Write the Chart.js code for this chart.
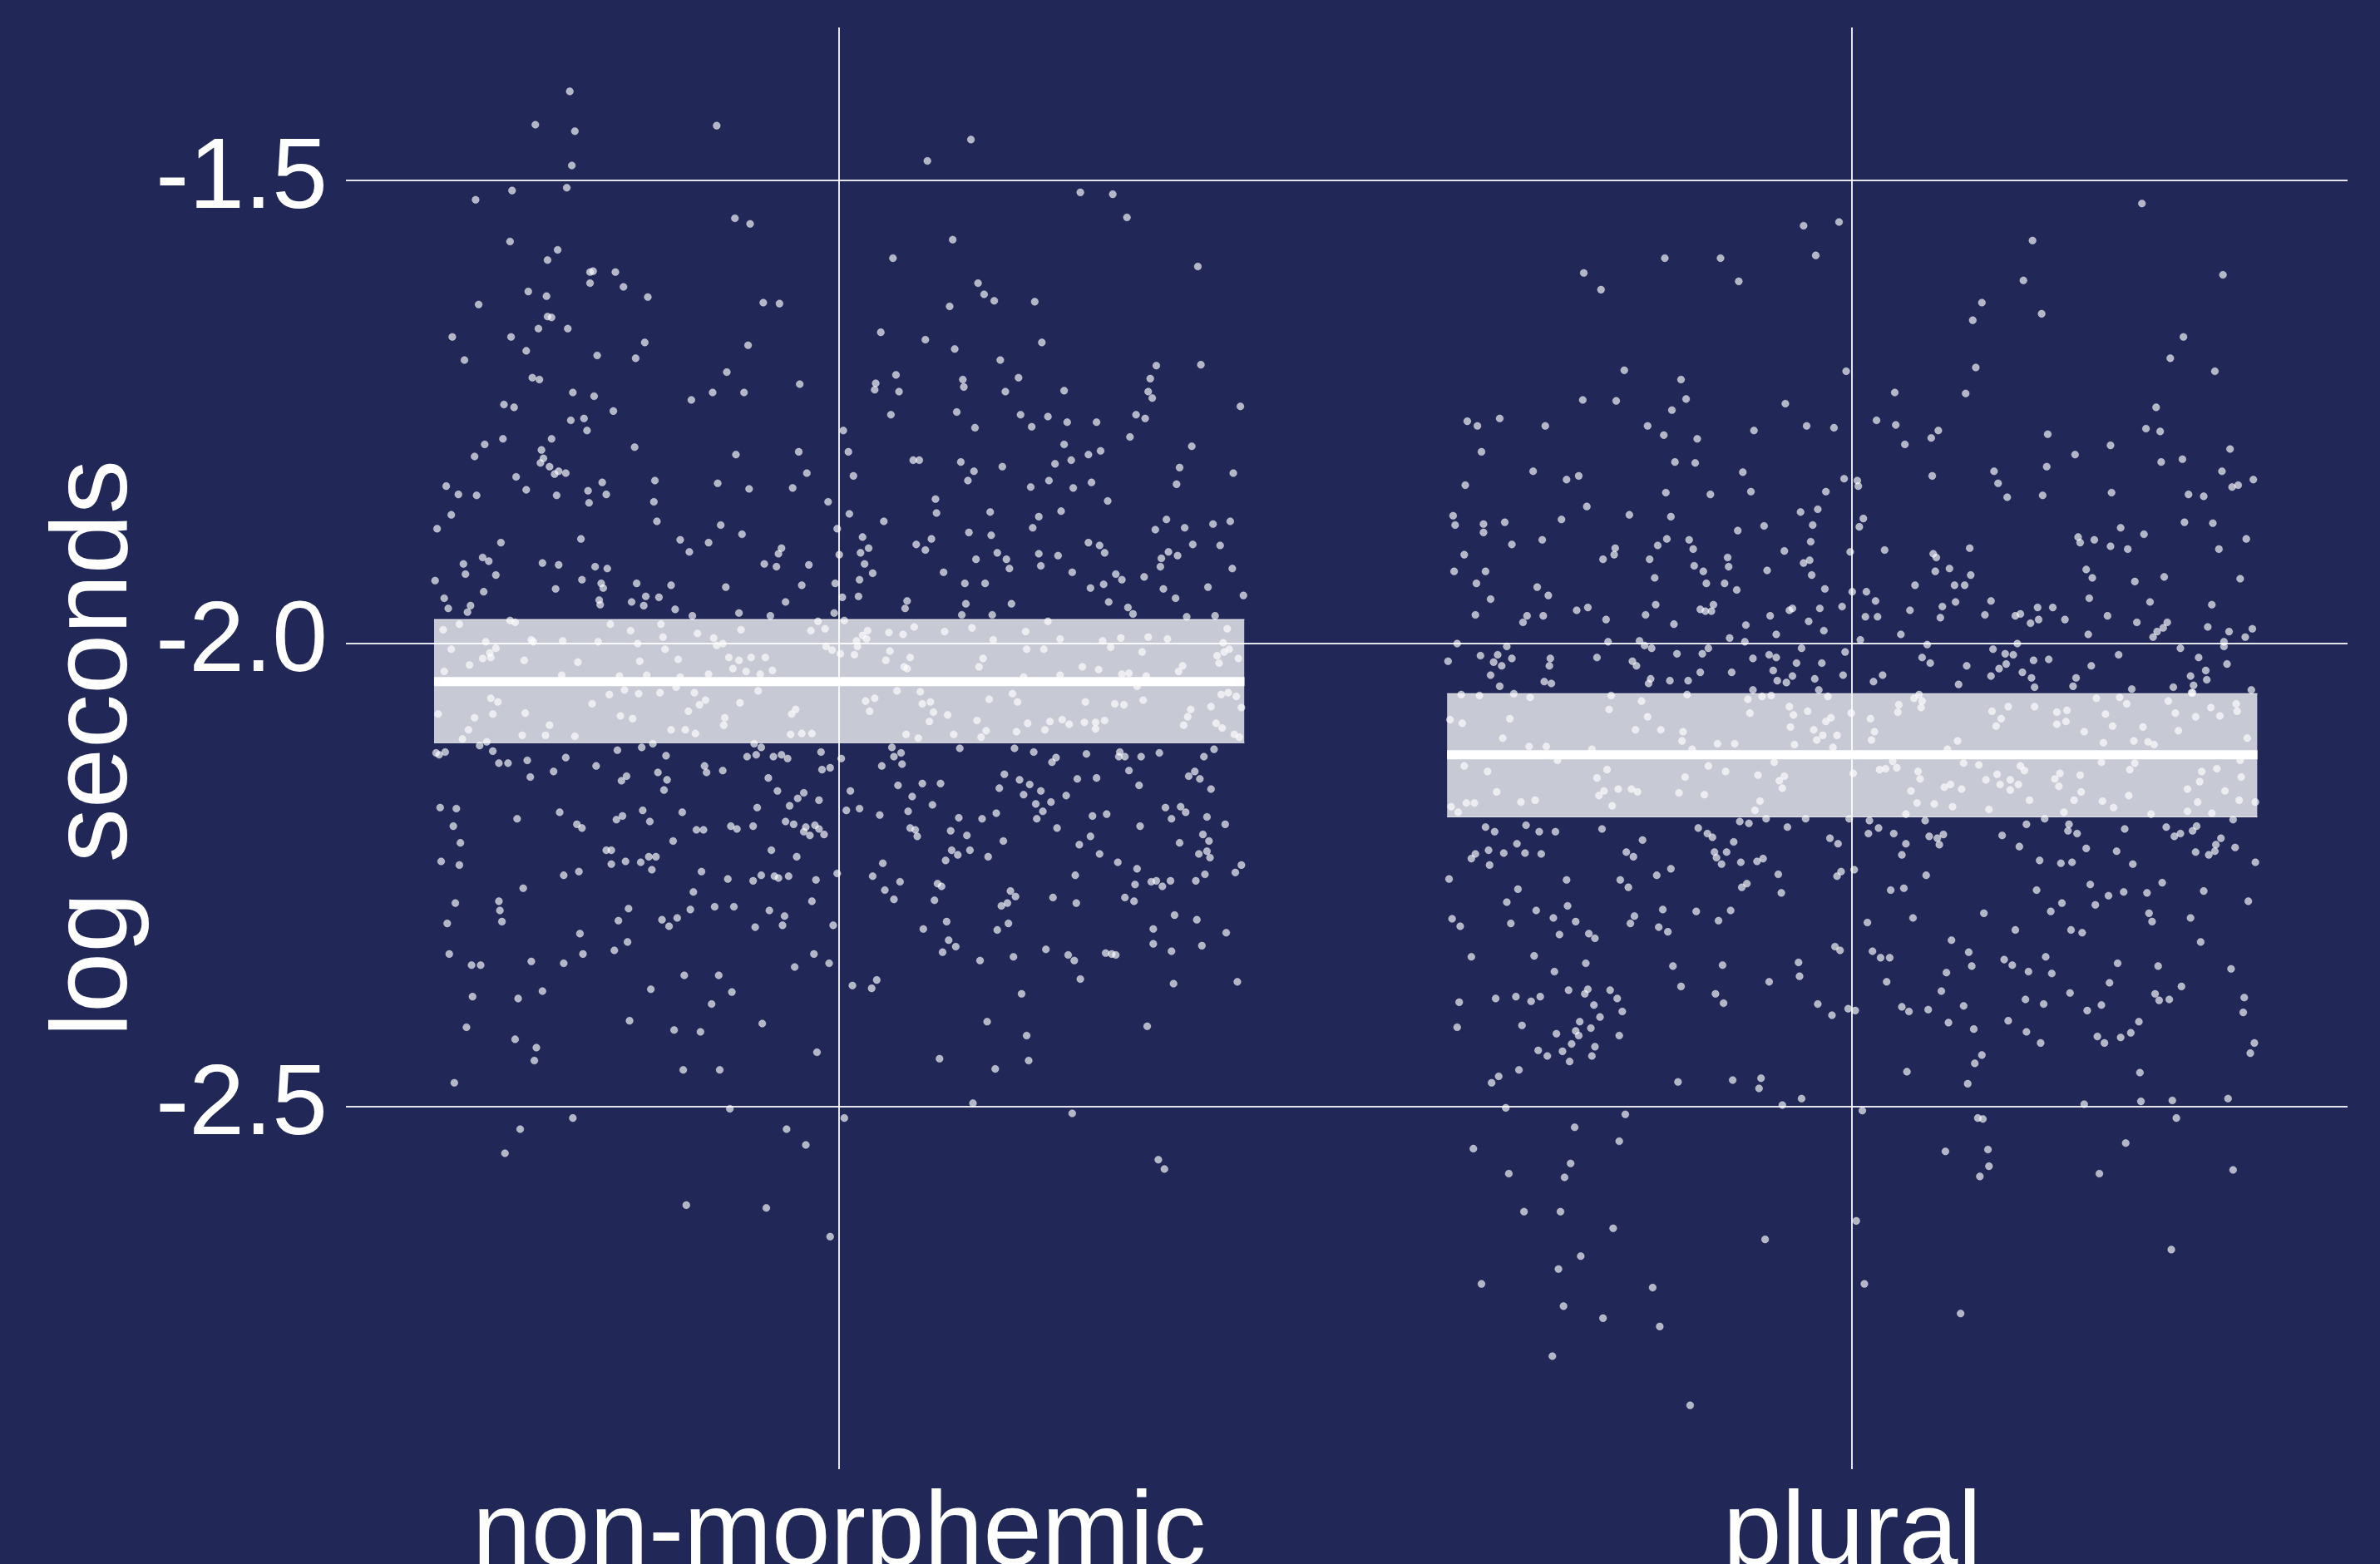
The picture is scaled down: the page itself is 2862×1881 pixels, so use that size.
<!DOCTYPE html>
<html>
<head>
<meta charset="utf-8">
<script src="https://cdn.jsdelivr.net/npm/chart.js@4.4.1/dist/chart.umd.min.js"></script>
<style>
  html, body { margin: 0; padding: 0; background: #212858; }
  #chart { display: block; background: #212858; }
</style>
</head>
<body>
<canvas id="chart" width="2862" height="1881"></canvas>
<script>
const categories = ['non-morphemic', 'plural'];
const yTicks = [-1.5, -2.0, -2.5];

// crossbar summary per category: mean and interval
const means = [-2.041, -2.120];
const lowerCI = [-2.107, -2.187];
const upperCI = [-1.974, -2.054];

// jittered trials: [horizontal jitter, log seconds]
const nonMorphemicPts = [
  [-0.266,-1.404],[-0.300,-1.440],[-0.261,-1.447],[-0.121,-1.441],[-0.264,-1.484],[0.130,-1.456],[0.087,-1.479],[-0.323,-1.511],[-0.269,-1.508],[-0.359,-1.521],
  [0.238,-1.513],[0.270,-1.515],[0.284,-1.540],[-0.103,-1.541],[-0.088,-1.547],[0.112,-1.564],[-0.325,-1.566],[-0.278,-1.575],[-0.288,-1.586],[0.053,-1.584],
  [0.354,-1.593],[-0.246,-1.599],[-0.243,-1.598],[-0.221,-1.599],[-0.246,-1.611],[-0.213,-1.615],[-0.307,-1.620],[-0.289,-1.625],[-0.189,-1.626],[0.137,-1.611],
  [0.143,-1.623],[0.153,-1.630],[0.193,-1.631],[-0.356,-1.634],[-0.075,-1.632],[-0.059,-1.633],[0.109,-1.636],[-0.288,-1.647],[-0.284,-1.648],[-0.297,-1.660],
  [-0.268,-1.660],[0.041,-1.664],[0.085,-1.672],[-0.382,-1.669],[-0.324,-1.669],[0.200,-1.675],[-0.192,-1.675],[-0.090,-1.678],[-0.309,-1.684],[0.114,-1.682],
  [-0.370,-1.694],[-0.239,-1.689],[-0.201,-1.692],[0.159,-1.694],[0.357,-1.699],[0.313,-1.700],[-0.303,-1.713],[-0.296,-1.715],[-0.111,-1.707],[0.122,-1.715],
  [0.123,-1.723],[0.056,-1.710],[0.036,-1.719],[0.035,-1.726],[0.177,-1.713],[0.307,-1.714],[-0.039,-1.720],[-0.263,-1.729],[-0.242,-1.733],[-0.125,-1.729],
  [-0.094,-1.729],[0.059,-1.728],[0.164,-1.728],[0.222,-1.727],[0.305,-1.728],[0.309,-1.735],[-0.146,-1.737],[-0.331,-1.742],[-0.321,-1.745],[-0.223,-1.749],
  [0.051,-1.753],[0.116,-1.750],[0.179,-1.753],[0.206,-1.755],[0.293,-1.753],[0.302,-1.757],[0.396,-1.744],[-0.265,-1.759],[-0.252,-1.757],[-0.249,-1.770],
  [0.134,-1.767],[0.190,-1.766],[0.225,-1.761],[0.254,-1.761],[0.287,-1.777],[0.004,-1.770],[-0.332,-1.779],[-0.284,-1.779],[-0.350,-1.785],[-0.202,-1.788],
  [-0.294,-1.791],[-0.360,-1.798],[-0.292,-1.800],[-0.295,-1.805],[-0.102,-1.796],[-0.040,-1.793],[0.009,-1.793],[0.222,-1.785],[0.348,-1.787],[0.246,-1.796],
  [0.258,-1.792],[0.073,-1.802],[0.079,-1.802],[0.120,-1.804],[0.229,-1.802],[0.213,-1.806],[-0.286,-1.809],[-0.277,-1.814],[-0.270,-1.816],[-0.281,-1.817],
  [-0.319,-1.820],[-0.032,-1.816],[0.014,-1.819],[0.133,-1.814],[0.161,-1.809],[0.336,-1.810],[0.389,-1.816],[-0.182,-1.824],[-0.234,-1.826],[-0.388,-1.830],
  [-0.376,-1.839],[-0.358,-1.840],[-0.309,-1.834],[-0.248,-1.835],[-0.230,-1.839],[-0.279,-1.840],[-0.089,-1.833],[-0.046,-1.832],[-0.120,-1.827],[0.127,-1.824],
  [0.189,-1.831],[0.207,-1.824],[0.231,-1.832],[0.249,-1.826],[0.333,-1.828],[-0.183,-1.847],[-0.247,-1.848],[-0.011,-1.847],[0.095,-1.844],[0.265,-1.846],
  [-0.383,-1.861],[-0.180,-1.868],[-0.117,-1.872],[0.010,-1.860],[0.096,-1.859],[0.044,-1.868],[0.149,-1.858],[0.197,-1.863],[0.219,-1.857],[0.191,-1.875],
  [0.312,-1.877],[0.323,-1.866],[0.341,-1.875],[0.369,-1.871],[0.386,-1.868],[-0.397,-1.876],[-0.002,-1.876],[-0.096,-1.882],[-0.255,-1.887],[-0.157,-1.888],
  [-0.334,-1.891],[-0.129,-1.891],[-0.057,-1.897],[-0.060,-1.903],[0.023,-1.885],[0.029,-1.897],[0.021,-1.902],[0.076,-1.893],[0.091,-1.887],[0.085,-1.899],
  [0.128,-1.880],[0.150,-1.883],[0.156,-1.902],[0.246,-1.891],[0.257,-1.894],[0.262,-1.902],[0.349,-1.893],[0.376,-1.894],[0.216,-1.905],[0.197,-1.903],
  [0.325,-1.901],[0.334,-1.905],[0.318,-1.908],[-0.148,-1.901],[0.000,-1.904],[-0.352,-1.907],[-0.346,-1.911],[-0.371,-1.914],[-0.293,-1.913],[-0.277,-1.915],
  [-0.241,-1.917],[-0.229,-1.919],[-0.074,-1.914],[-0.062,-1.917],[-0.030,-1.915],[0.025,-1.914],[0.135,-1.909],[0.165,-1.909],[0.168,-1.919],[0.199,-1.916],
  [0.317,-1.917],[0.388,-1.919],[-0.399,-1.932],[-0.369,-1.925],[-0.339,-1.926],[-0.254,-1.931],[-0.235,-1.935],[-0.233,-1.940],[-0.200,-1.935],[-0.166,-1.937],
  [-0.112,-1.939],[-0.037,-1.937],[-0.004,-1.935],[0.033,-1.924],[0.020,-1.931],[0.103,-1.923],[0.124,-1.935],[0.144,-1.935],[0.230,-1.923],[0.273,-1.925],
  [0.279,-1.931],[0.301,-1.928],[0.248,-1.940],[0.261,-1.936],[0.320,-1.941],[0.364,-1.939],[-0.390,-1.951],[-0.351,-1.944],[-0.280,-1.941],[-0.386,-1.962],
  [-0.364,-1.959],[-0.367,-1.966],[-0.237,-1.953],[-0.236,-1.958],[-0.205,-1.955],[-0.193,-1.959],[-0.191,-1.949],[-0.178,-1.950],[-0.162,-1.963],[-0.053,-1.955],
  [0.003,-1.950],[0.019,-1.949],[0.067,-1.954],[0.065,-1.962],[0.125,-1.957],[0.170,-1.957],[0.266,-1.955],[0.285,-1.961],[0.290,-1.968],[0.332,-1.951],
  [0.399,-1.948],[0.121,-1.969],[0.151,-1.969],[-0.099,-1.967],[-0.068,-1.970],[-0.145,-1.970],[-0.005,-1.967],[0.343,-1.971],[0.371,-1.970],
  [-0.391,-1.985],[-0.375,-1.979],[-0.383,-2.006],[-0.349,-1.998],[-0.339,-2.005],[-0.345,-2.010],[-0.352,-2.016],[-0.344,-2.015],[-0.365,-2.023],[-0.390,-2.030],
  [-0.325,-1.975],[-0.320,-1.977],[-0.304,-1.996],[-0.302,-1.998],[-0.273,-1.997],[-0.238,-1.998],[-0.226,-1.979],[-0.206,-1.986],[-0.199,-2.000],[-0.176,-1.979],
  [-0.174,-1.993],[-0.172,-2.006],[-0.140,-1.989],[-0.124,-1.994],[-0.121,-2.002],[-0.115,-2.000],[-0.097,-1.985],[-0.028,-1.986],[-0.021,-1.976],[-0.014,-1.984],
  [-0.013,-2.003],[-0.007,-2.007],[0.005,-1.975],[0.001,-2.011],[0.015,-2.012],[0.017,-1.997],[0.018,-2.003],[0.023,-1.991],[0.027,-1.995],[0.028,-1.986],
  [0.049,-1.988],[0.050,-2.008],[0.063,-1.990],[0.074,-1.982],[0.104,-1.987],[0.131,-1.983],[0.152,-1.996],[0.184,-1.987],[0.185,-2.006],[0.202,-2.006],
  [0.206,-1.976],[0.218,-1.995],[0.260,-1.997],[0.268,-2.004],[0.278,-1.994],[0.299,-2.009],[0.305,-1.993],[0.324,-1.995],[0.379,-1.999],[0.383,-1.984],
  [0.385,-2.006],[0.380,-2.009],[0.373,-2.013],[0.375,-2.021],[0.394,-2.016],[-0.311,-2.018],[-0.258,-2.020],[-0.197,-2.019],[-0.159,-2.017],[-0.109,-2.015],
  [-0.099,-2.018],[-0.087,-2.015],[-0.073,-2.015],[-0.105,-2.027],[-0.092,-2.030],[-0.066,-2.029],[-0.078,-2.033],[-0.129,-2.033],[-0.274,-2.034],[-0.217,-2.035],
  [-0.190,-2.034],[-0.157,-2.036],[0.046,-2.018],[0.070,-2.015],[0.142,-2.016],[0.138,-2.025],[0.064,-2.025],[0.067,-2.027],[0.240,-2.025],[0.256,-2.028],
  [0.279,-2.033],[0.286,-2.032],[0.339,-2.024],[0.335,-2.030],[0.303,-2.035],[0.218,-2.034],[0.182,-2.036],
  [-0.396,-2.076],[-0.360,-2.080],[-0.366,-2.093],[-0.372,-2.103],[-0.344,-2.059],[-0.337,-2.063],[-0.342,-2.076],[-0.310,-2.075],[-0.286,-2.088],[-0.290,-2.099],
  [-0.313,-2.099],[-0.261,-2.100],[-0.244,-2.065],[-0.227,-2.055],[-0.212,-2.050],[-0.198,-2.054],[-0.177,-2.053],[-0.216,-2.078],[-0.204,-2.081],[-0.161,-2.047],
  [-0.143,-2.053],[-0.149,-2.073],[-0.138,-2.066],[-0.132,-2.061],[-0.166,-2.093],[-0.152,-2.093],[-0.142,-2.097],[-0.098,-2.064],[-0.113,-2.080],[-0.114,-2.088],
  [-0.080,-2.051],[-0.047,-2.076],[-0.043,-2.071],[-0.048,-2.098],[-0.037,-2.097],[-0.027,-2.097],[0.026,-2.062],[0.035,-2.059],[0.030,-2.073],[0.057,-2.051],
  [0.080,-2.052],[0.082,-2.065],[0.090,-2.063],[0.093,-2.074],[0.107,-2.077],[0.089,-2.084],[0.066,-2.098],[0.078,-2.102],[0.113,-2.098],[0.136,-2.083],
  [0.148,-2.060],[0.171,-2.054],[0.176,-2.063],[0.145,-2.094],[0.140,-2.101],[0.175,-2.095],[0.186,-2.086],[0.203,-2.093],[0.208,-2.084],[0.220,-2.082],
  [0.227,-2.087],[0.242,-2.085],[0.253,-2.085],[0.253,-2.092],[0.262,-2.083],[0.272,-2.065],[0.281,-2.066],[0.243,-2.063],[0.300,-2.061],[0.294,-2.046],
  [0.340,-2.088],[0.344,-2.079],[0.347,-2.071],[0.367,-2.068],[0.372,-2.086],[0.378,-2.091],[0.390,-2.098],[0.395,-2.101],[0.377,-2.055],[0.384,-2.053],
  [0.392,-2.057],[0.397,-2.069],
  [-0.398,-2.118],[-0.395,-2.120],[-0.389,-2.117],[-0.355,-2.110],[-0.348,-2.106],[-0.342,-2.116],[-0.336,-2.129],[-0.327,-2.129],[-0.308,-2.126],[-0.305,-2.144],
  [-0.282,-2.138],[-0.270,-2.123],[-0.240,-2.132],[-0.219,-2.115],[-0.215,-2.148],[-0.210,-2.143],[-0.195,-2.112],[-0.184,-2.108],[-0.179,-2.139],[-0.171,-2.121],
  [-0.170,-2.147],[-0.173,-2.158],[-0.133,-2.132],[-0.131,-2.139],[-0.115,-2.137],[-0.091,-2.122],[-0.084,-2.108],[-0.082,-2.120],[-0.077,-2.112],[-0.070,-2.145],
  [-0.065,-2.122],[-0.057,-2.120],[-0.051,-2.124],[-0.061,-2.159],[-0.035,-2.161],[-0.041,-2.167],[-0.049,-2.175],[-0.020,-2.169],[-0.018,-2.117],[-0.017,-2.136],
  [-0.009,-2.134],[0.002,-2.124],[0.011,-2.159],[0.007,-2.180],[0.020,-2.178],[0.040,-2.185],[0.042,-2.132],[0.052,-2.112],[0.054,-2.122],[0.061,-2.118],
  [0.062,-2.130],[0.058,-2.153],[0.072,-2.165],[0.082,-2.151],[0.100,-2.151],[0.092,-2.174],[0.068,-2.181],[0.119,-2.113],[0.173,-2.113],[0.192,-2.117],
  [0.163,-2.141],[0.158,-2.156],[0.178,-2.147],[0.188,-2.152],[0.199,-2.159],[0.182,-2.163],[0.194,-2.173],[0.201,-2.181],[0.209,-2.171],[0.195,-2.189],
  [0.224,-2.164],[0.210,-2.128],[0.214,-2.123],[0.244,-2.119],[0.235,-2.146],[0.254,-2.145],[0.277,-2.117],[0.276,-2.122],[0.282,-2.122],[0.298,-2.122],
  [0.316,-2.118],[0.286,-2.137],[0.296,-2.153],[0.345,-2.143],[0.351,-2.138],[0.356,-2.146],[0.360,-2.122],[0.370,-2.114],[0.367,-2.157],[0.322,-2.177],
  [0.337,-2.176],[0.342,-2.182],[0.328,-2.189],[0.363,-2.187],[0.381,-2.195],[0.250,-2.186],[0.264,-2.184],[0.215,-2.199],[-0.394,-2.177],[-0.378,-2.178],
  [-0.381,-2.197],[-0.374,-2.215],[-0.393,-2.235],[-0.375,-2.239],[-0.318,-2.189],[-0.276,-2.182],[-0.259,-2.195],[-0.254,-2.199],[-0.220,-2.190],[-0.214,-2.186],
  [-0.194,-2.180],[-0.187,-2.192],[-0.155,-2.182],[-0.164,-2.213],[-0.141,-2.201],[-0.134,-2.201],[-0.107,-2.197],[-0.101,-2.200],[-0.085,-2.197],[-0.053,-2.192],
  [-0.045,-2.195],[-0.035,-2.203],[-0.033,-2.198],[-0.029,-2.207],[-0.024,-2.196],[-0.020,-2.200],[-0.015,-2.206],[-0.067,-2.223],[-0.042,-2.230],[-0.081,-2.177],
  [-0.230,-2.223],[-0.225,-2.223],[-0.225,-2.238],[-0.211,-2.235],[-0.196,-2.236],[-0.188,-2.230],[-0.181,-2.230],[-0.185,-2.244],[-0.272,-2.250],[-0.257,-2.246],
  [-0.136,-2.246],[-0.110,-2.254],[-0.085,-2.256],[-0.077,-2.250],[-0.064,-2.251],[-0.060,-2.253],[-0.050,-2.251],[-0.023,-2.255],[-0.002,-2.248],[0.033,-2.251],
  [0.043,-2.237],[0.060,-2.257],[0.045,-2.266],[0.054,-2.276],[0.077,-2.208],[0.075,-2.201],[0.070,-2.199],[0.110,-2.202],[0.126,-2.207],[0.118,-2.188],
  [0.141,-2.189],[0.155,-2.183],[0.162,-2.213],[0.111,-2.223],[0.117,-2.228],[0.129,-2.223],[0.105,-2.234],[0.147,-2.230],[0.097,-2.259],[0.101,-2.262],
  [0.094,-2.277],[0.174,-2.273],[0.169,-2.267],[0.166,-2.280],[0.160,-2.283],[0.237,-2.217],[0.248,-2.208],[0.257,-2.227],[0.275,-2.236],[0.297,-2.197],
  [0.294,-2.243],[0.292,-2.260],[0.308,-2.257],[0.313,-2.256],[0.327,-2.256],[0.319,-2.262],[0.336,-2.215],[0.355,-2.227],[0.363,-2.224],[0.366,-2.231],
  [0.359,-2.206],[0.365,-2.213],[0.352,-2.256],[0.361,-2.249],[0.391,-2.247],[0.397,-2.239],[0.233,-2.250],[0.211,-2.274],[0.234,-2.280],[0.282,-2.274],
  [0.291,-2.278],[-0.312,-2.264],[-0.379,-2.280],[-0.336,-2.278],[-0.335,-2.288],[-0.333,-2.300],[-0.387,-2.302],[-0.256,-2.313],[-0.218,-2.299],[-0.208,-2.286],
  [-0.209,-2.322],[-0.222,-2.331],[-0.253,-2.335],[-0.175,-2.298],[-0.168,-2.305],[-0.160,-2.296],[-0.147,-2.287],[-0.144,-2.268],[-0.123,-2.284],[-0.104,-2.284],
  [-0.069,-2.288],[-0.054,-2.294],[-0.056,-2.304],[-0.083,-2.306],[-0.027,-2.278],[-0.006,-2.304],[0.083,-2.308],[0.106,-2.300],[0.108,-2.320],[0.102,-2.333],
  [0.115,-2.327],[0.139,-2.342],[0.156,-2.309],[0.167,-2.302],[0.172,-2.338],[0.204,-2.330],[0.226,-2.336],[0.232,-2.342],[0.263,-2.334],[0.269,-2.335],
  [0.273,-2.336],[0.310,-2.308],[0.310,-2.324],[0.328,-2.332],[0.331,-2.293],[0.353,-2.298],[0.358,-2.326],[0.382,-2.312],[-0.385,-2.335],[-0.363,-2.347],
  [-0.354,-2.347],[-0.304,-2.343],[-0.272,-2.345],[-0.153,-2.358],[-0.119,-2.358],[-0.106,-2.376],[-0.126,-2.389],[-0.186,-2.373],[-0.044,-2.349],[-0.025,-2.335],
  [-0.010,-2.345],[0.013,-2.369],[0.037,-2.363],[0.032,-2.372],[0.180,-2.378],[0.238,-2.362],[0.330,-2.367],[0.393,-2.365],[-0.362,-2.381],[-0.317,-2.383],
  [-0.293,-2.375],[-0.368,-2.414],[-0.320,-2.427],[-0.299,-2.436],[-0.301,-2.450],[-0.207,-2.407],[-0.163,-2.417],[-0.137,-2.419],[-0.076,-2.410],[-0.022,-2.441],
  [-0.154,-2.460],[-0.118,-2.460],[-0.380,-2.474],[0.146,-2.408],[0.185,-2.423],[0.187,-2.450],[0.099,-2.448],[0.154,-2.459],[0.304,-2.413],[0.132,-2.496],
  [-0.108,-2.502],[-0.263,-2.512],[-0.315,-2.524],[-0.330,-2.550],[-0.052,-2.524],[-0.033,-2.541],[0.005,-2.512],[0.230,-2.507],[0.315,-2.557],[0.321,-2.567],
  [-0.151,-2.606],[-0.072,-2.609],[-0.009,-2.640]
];

const pluralPts = [
  [0.286,-1.525],[-0.013,-1.545],[-0.048,-1.549],[-0.036,-1.581],[-0.185,-1.584],[-0.130,-1.584],[0.178,-1.565],[-0.265,-1.600],[-0.248,-1.618],[-0.112,-1.609],
  [0.169,-1.608],[0.366,-1.602],[0.128,-1.632],[0.119,-1.651],[0.187,-1.644],[0.327,-1.669],[0.314,-1.692],[0.358,-1.706],[0.122,-1.702],[-0.006,-1.706],
  [-0.225,-1.705],[-0.169,-1.715],[0.042,-1.729],[0.112,-1.730],[-0.266,-1.737],[-0.233,-1.738],[-0.164,-1.736],[-0.178,-1.748],[-0.066,-1.741],[0.300,-1.745],
  [-0.380,-1.760],[-0.370,-1.765],[-0.348,-1.757],[-0.303,-1.765],[-0.202,-1.765],[-0.186,-1.775],[-0.153,-1.779],[-0.097,-1.770],[-0.045,-1.765],[-0.018,-1.767],
  [0.024,-1.759],[0.043,-1.764],[0.085,-1.770],[0.078,-1.778],[0.052,-1.785],[0.193,-1.774],[0.290,-1.768],[0.304,-1.771],[0.255,-1.786],[0.373,-1.790],
  [0.220,-1.796],[-0.366,-1.793],[-0.315,-1.814],[-0.282,-1.823],[-0.270,-1.819],[-0.175,-1.804],[-0.155,-1.805],[-0.108,-1.815],[0.140,-1.814],[0.144,-1.827],
  [0.192,-1.809],[0.326,-1.801],[0.305,-1.804],[0.365,-1.814],[0.079,-1.819],[-0.008,-1.822],[0.005,-1.824],[0.006,-1.830],[-0.382,-1.829],[-0.184,-1.837],
  [-0.140,-1.839],[-0.100,-1.836],[-0.026,-1.836],[0.153,-1.842],[0.188,-1.840],[0.256,-1.837],[0.332,-1.839],[0.347,-1.841],[0.375,-1.831],[0.381,-1.829],
  [0.396,-1.823],[-0.394,-1.862],[-0.392,-1.872],[-0.364,-1.871],[-0.364,-1.880],[-0.343,-1.869],[-0.287,-1.866],[-0.262,-1.852],[-0.220,-1.861],[-0.179,-1.863],
  [-0.051,-1.858],[-0.034,-1.855],[-0.039,-1.872],[0.011,-1.865],[0.007,-1.874],[-0.113,-1.878],[-0.087,-1.873],[0.328,-1.869],[0.356,-1.870],[0.265,-1.875],
  [0.288,-1.882],[0.223,-1.885],[0.225,-1.891],[0.239,-1.888],[0.255,-1.895],[0.272,-1.898],[0.389,-1.887],[0.362,-1.898],[-0.336,-1.893],[-0.306,-1.888],
  [-0.383,-1.904],[-0.246,-1.909],[-0.235,-1.904],[-0.234,-1.897],[-0.200,-1.909],[-0.192,-1.894],[-0.183,-1.887],[-0.161,-1.888],[-0.157,-1.898],[-0.123,-1.907],
  [-0.122,-1.917],[-0.067,-1.900],[-0.048,-1.913],[-0.042,-1.910],[-0.041,-1.890],[-0.002,-1.901],[0.032,-1.899],[0.080,-1.903],[0.083,-1.907],[0.116,-1.897],
  [-0.393,-1.922],[-0.362,-1.922],[-0.371,-1.935],[-0.357,-1.952],[-0.311,-1.939],[-0.300,-1.948],[-0.195,-1.929],[-0.156,-1.916],[-0.147,-1.922],[-0.144,-1.935],
  [-0.126,-1.935],[-0.114,-1.942],[-0.084,-1.921],[-0.040,-1.926],[-0.027,-1.941],[0.000,-1.944],[0.014,-1.944],[0.023,-1.954],[0.062,-1.937],[0.082,-1.922],
  [0.096,-1.919],[0.101,-1.937],[0.111,-1.937],[0.117,-1.926],[0.102,-1.955],[0.231,-1.920],[0.237,-1.929],[0.279,-1.933],[0.308,-1.928],[0.383,-1.930],
  [0.234,-1.951],[0.294,-1.955],[0.355,-1.958],[-0.372,-1.969],[-0.325,-1.977],[-0.321,-1.970],[-0.305,-1.970],[-0.272,-1.964],[-0.261,-1.961],[-0.243,-1.974],
  [-0.204,-1.969],[-0.194,-1.958],[-0.176,-1.979],[-0.150,-1.963],[-0.145,-1.965],[-0.139,-1.965],[-0.137,-1.958],[-0.105,-1.980],[-0.081,-1.970],[-0.075,-1.990],
  [-0.062,-1.964],[-0.059,-1.962],[-0.043,-1.976],[-0.032,-1.962],[-0.028,-1.986],[-0.010,-1.960],[0.013,-1.971],[0.025,-1.971],[0.048,-1.990],[0.057,-1.964],
  [0.087,-1.972],[0.089,-1.960],[0.131,-1.969],[0.137,-1.954],[0.161,-1.970],[0.166,-1.968],[0.176,-1.978],[0.183,-1.961],[0.184,-1.974],[0.198,-1.961],
  [0.210,-1.974],[0.233,-1.990],[0.252,-1.970],[0.281,-1.977],[0.297,-1.993],[0.301,-1.987],[0.307,-1.983],[0.311,-1.977],[0.351,-1.982],[0.372,-1.987],
  [0.388,-1.993],[0.395,-1.984],[-0.390,-2.000],[-0.341,-2.003],[-0.241,-1.998],[-0.210,-1.997],[-0.205,-2.002],[-0.198,-2.005],[-0.121,-1.994],[-0.106,-1.998],
  [-0.142,-2.005],[-0.050,-2.005],[-0.007,-2.009],[0.008,-1.996],[0.074,-2.001],[0.163,-2.000],[0.139,-2.006],[0.367,-1.998],[0.367,-2.003],[0.324,-2.005],
  [-0.399,-2.019],[-0.367,-2.013],[-0.350,-2.012],[-0.354,-2.020],[-0.346,-2.024],[-0.336,-2.016],[-0.298,-2.016],[-0.299,-2.024],[-0.252,-2.015],[-0.217,-2.019],
  [-0.213,-2.024],[-0.173,-2.011],[-0.148,-2.011],[-0.098,-2.016],[-0.082,-2.012],[-0.075,-2.015],[-0.055,-2.021],[-0.030,-2.021],[0.069,-2.015],[0.077,-2.021],
  [0.113,-2.024],[0.151,-2.011],[0.159,-2.012],[0.152,-2.022],[0.145,-2.027],[0.179,-2.018],[0.194,-2.017],[0.236,-2.024],[0.263,-2.012],[0.342,-2.015],
  [0.370,-2.022],[-0.357,-2.034],[-0.348,-2.046],[-0.304,-2.041],[-0.297,-2.043],[-0.201,-2.043],[-0.199,-2.038],[-0.180,-2.040],[-0.162,-2.040],[-0.150,-2.031],
  [-0.119,-2.031],[-0.078,-2.029],[-0.074,-2.040],[-0.065,-2.042],[-0.059,-2.035],[-0.037,-2.038],[-0.033,-2.050],[-0.009,-2.034],[-0.098,-2.050],[0.021,-2.041],
  [0.030,-2.034],[0.105,-2.044],[0.137,-2.035],[0.168,-2.031],[0.177,-2.037],[0.180,-2.047],[0.218,-2.046],[0.221,-2.037],[0.276,-2.049],[0.317,-2.047],
  [0.334,-2.035],[0.337,-2.045],[0.349,-2.029],[0.350,-2.039],[0.335,-2.053],[0.394,-2.050],
  [-0.386,-2.055],[-0.368,-2.056],[-0.334,-2.054],[-0.318,-2.058],[-0.397,-2.082],[-0.385,-2.086],[-0.338,-2.081],[-0.345,-2.102],[-0.319,-2.111],[-0.302,-2.111],
  [-0.257,-2.114],[-0.238,-2.056],[-0.208,-2.062],[-0.240,-2.071],[-0.202,-2.079],[-0.214,-2.093],[-0.189,-2.093],[-0.167,-2.095],[-0.168,-2.105],[-0.158,-2.114],
  [-0.163,-2.055],[-0.133,-2.108],[-0.116,-2.108],[-0.103,-2.060],[-0.089,-2.057],[-0.080,-2.056],[-0.101,-2.075],[-0.062,-2.068],[-0.044,-2.073],[-0.058,-2.077],
  [-0.061,-2.090],[-0.038,-2.093],[-0.035,-2.104],[-0.029,-2.099],[-0.015,-2.099],[-0.057,-2.109],[-0.024,-2.057],[-0.019,-2.112],[-0.026,-2.084],[-0.021,-2.080],
  [-0.001,-2.075],[0.018,-2.081],[0.022,-2.095],[0.019,-2.104],[0.046,-2.066],[0.045,-2.074],[0.061,-2.059],[0.066,-2.055],[0.069,-2.062],[0.068,-2.069],
  [0.104,-2.105],[0.094,-2.114],[0.138,-2.073],[0.147,-2.081],[0.142,-2.089],[0.154,-2.068],[0.180,-2.068],[0.202,-2.074],[0.212,-2.072],[0.211,-2.084],
  [0.202,-2.087],[0.229,-2.095],[0.241,-2.059],[0.250,-2.076],[0.264,-2.058],[0.271,-2.065],[0.257,-2.089],[0.248,-2.107],[0.278,-2.105],[0.287,-2.090],
  [0.292,-2.106],[0.298,-2.109],[0.312,-2.062],[0.319,-2.075],[0.339,-2.079],[0.354,-2.069],[0.363,-2.078],[0.379,-2.065],[0.380,-2.073],[0.322,-2.094],
  [0.390,-2.102],[0.336,-2.053],[-0.383,-2.132],[-0.360,-2.138],[-0.291,-2.126],[-0.351,-2.160],[-0.381,-2.172],[-0.373,-2.172],[-0.396,-2.176],[-0.389,-2.182],
  [-0.327,-2.171],[-0.313,-2.169],[-0.252,-2.145],[-0.242,-2.136],[-0.245,-2.159],[-0.250,-2.164],[-0.231,-2.157],[-0.218,-2.157],[-0.212,-2.160],[-0.237,-2.175],
  [-0.171,-2.161],[-0.165,-2.144],[-0.146,-2.163],[-0.142,-2.132],[-0.125,-2.138],[-0.093,-2.142],[-0.077,-2.128],[-0.072,-2.148],[-0.067,-2.143],[-0.069,-2.156],
  [-0.091,-2.170],[-0.096,-2.180],[0.001,-2.140],[0.027,-2.136],[0.033,-2.135],[0.044,-2.134],[0.040,-2.127],[0.065,-2.138],[0.067,-2.146],[0.058,-2.159],
  [0.064,-2.172],[0.081,-2.173],[0.099,-2.176],[0.091,-2.155],[0.097,-2.152],[0.108,-2.157],[0.110,-2.129],[0.125,-2.131],[0.132,-2.147],[0.143,-2.141],
  [0.146,-2.152],[0.156,-2.147],[0.156,-2.158],[0.164,-2.152],[0.166,-2.132],[0.170,-2.137],[0.135,-2.179],[0.175,-2.169],[0.200,-2.146],[0.205,-2.140],
  [0.204,-2.154],[0.225,-2.142],[0.226,-2.160],[0.219,-2.169],[0.209,-2.182],[0.247,-2.170],[0.246,-2.128],[0.258,-2.177],[0.273,-2.164],[0.274,-2.136],
  [0.279,-2.129],[0.295,-2.184],[0.331,-2.157],[0.331,-2.181],[0.341,-2.171],[0.343,-2.149],[0.345,-2.138],[0.360,-2.135],[0.355,-2.183],[0.368,-2.159],
  [0.382,-2.169],[0.384,-2.144],[0.383,-2.126],[0.398,-2.171],[0.053,-2.184],
  [-0.362,-2.198],[-0.353,-2.203],[-0.322,-2.196],[-0.309,-2.203],[-0.293,-2.203],[-0.247,-2.200],[-0.207,-2.212],[-0.152,-2.199],[-0.143,-2.205],[-0.138,-2.209],
  [-0.117,-2.214],[-0.111,-2.192],[-0.102,-2.194],[-0.085,-2.189],[-0.064,-2.198],[-0.046,-2.189],[-0.022,-2.210],[-0.014,-2.216],[-0.003,-2.189],[0.017,-2.191],
  [0.016,-2.205],[0.026,-2.199],[0.041,-2.205],[0.053,-2.216],[0.072,-2.191],[0.076,-2.208],[0.084,-2.210],[0.086,-2.217],[0.090,-2.206],[0.148,-2.207],
  [0.172,-2.195],[0.165,-2.219],[0.190,-2.189],[0.214,-2.195],[0.213,-2.202],[0.222,-2.205],[0.231,-2.221],[0.269,-2.200],[0.261,-2.224],[0.277,-2.238],
  [0.310,-2.198],[0.318,-2.208],[0.324,-2.205],[0.336,-2.202],[0.340,-2.197],[0.364,-2.210],[0.359,-2.217],[0.358,-2.224],[0.352,-2.228],[0.339,-2.225],
  [0.378,-2.220],[0.376,-2.190],[0.398,-2.236],[-0.376,-2.232],[-0.372,-2.227],[-0.359,-2.223],[-0.358,-2.239],[-0.344,-2.226],[-0.331,-2.216],[-0.323,-2.226],
  [-0.307,-2.227],[-0.398,-2.254],[-0.282,-2.255],[-0.330,-2.265],[-0.341,-2.279],[-0.223,-2.225],[-0.216,-2.230],[-0.229,-2.255],[-0.221,-2.263],[-0.179,-2.243],
  [-0.193,-2.250],[-0.136,-2.225],[-0.134,-2.231],[-0.129,-2.238],[-0.124,-2.225],[-0.110,-2.236],[-0.094,-2.235],[-0.088,-2.232],[-0.073,-2.249],[-0.070,-2.269],
  [-0.109,-2.263],[-0.104,-2.259],[-0.015,-2.251],[-0.011,-2.246],[0.002,-2.244],[0.049,-2.228],[0.073,-2.250],[0.038,-2.266],[0.051,-2.264],[0.185,-2.234],
  [0.206,-2.237],[0.217,-2.236],[0.182,-2.266],[0.196,-2.289],[0.207,-2.280],[0.240,-2.282],[0.253,-2.272],[0.268,-2.268],[0.235,-2.260],[0.291,-2.269],
  [0.306,-2.258],[0.347,-2.267],[0.391,-2.278],[-0.395,-2.297],[-0.387,-2.305],[-0.312,-2.288],[-0.337,-2.302],[-0.295,-2.296],[-0.281,-2.283],[-0.273,-2.300],
  [-0.289,-2.314],[-0.260,-2.313],[-0.254,-2.318],[-0.215,-2.294],[-0.219,-2.302],[-0.187,-2.287],[-0.191,-2.306],[-0.182,-2.311],[-0.154,-2.289],[-0.132,-2.299],
  [-0.120,-2.288],[0.015,-2.301],[0.060,-2.296],[0.130,-2.291],[0.161,-2.309],[0.216,-2.309],[0.227,-2.312],[0.293,-2.291],[0.296,-2.300],[0.334,-2.296],
  [0.344,-2.322],[0.098,-2.320],[-0.376,-2.338],[-0.314,-2.337],[-0.294,-2.354],[-0.263,-2.345],[-0.177,-2.348],[-0.128,-2.347],[-0.169,-2.370],[-0.082,-2.365],
  [-0.053,-2.344],[-0.052,-2.359],[-0.017,-2.327],[-0.012,-2.331],[0.020,-2.332],[0.028,-2.339],[0.037,-2.339],[0.034,-2.365],[0.093,-2.355],[0.115,-2.333],
  [0.118,-2.348],[0.150,-2.341],[0.158,-2.347],[0.174,-2.354],[0.191,-2.338],[0.197,-2.356],[0.254,-2.366],[0.262,-2.345],[0.302,-2.348],[0.325,-2.370],
  [0.374,-2.351],[-0.388,-2.387],[-0.390,-2.414],[-0.352,-2.383],[-0.332,-2.381],[-0.317,-2.386],[-0.308,-2.381],[-0.280,-2.374],[-0.264,-2.378],[-0.261,-2.373],
  [-0.255,-2.390],[-0.239,-2.374],[-0.232,-2.383],[-0.227,-2.397],[-0.249,-2.403],[-0.269,-2.408],[-0.326,-2.412],[-0.292,-2.421],[-0.273,-2.418],[-0.270,-2.423],
  [-0.258,-2.415],[-0.230,-2.423],[-0.135,-2.378],[-0.127,-2.388],[-0.034,-2.389],[-0.020,-2.401],[-0.004,-2.394],[0.003,-2.396],[0.049,-2.392],[0.056,-2.397],
  [0.075,-2.395],[0.088,-2.375],[0.110,-2.391],[0.095,-2.409],[0.120,-2.416],[0.154,-2.407],[0.171,-2.384],[0.189,-2.389],[0.215,-2.377],[0.232,-2.396],
  [0.246,-2.390],[0.283,-2.408],[0.299,-2.378],[0.303,-2.385],[0.313,-2.384],[0.387,-2.382],[0.386,-2.398],[0.172,-2.419],[0.186,-2.431],[0.242,-2.424],
  [0.249,-2.431],[0.265,-2.425],[0.275,-2.420],[-0.310,-2.439],[-0.301,-2.445],[-0.286,-2.440],[-0.279,-2.451],[-0.277,-2.432],[-0.254,-2.435],[-0.257,-2.445],
  [-0.329,-2.460],[-0.356,-2.474],[-0.349,-2.467],[-0.172,-2.473],[-0.118,-2.471],[-0.090,-2.469],[-0.092,-2.480],[-0.069,-2.498],[-0.050,-2.491],[0.054,-2.462],
  [0.128,-2.444],[0.121,-2.453],[0.114,-2.475],[0.284,-2.463],[0.397,-2.431],[0.393,-2.442],[-0.342,-2.501],[-0.224,-2.508],[-0.274,-2.522],[-0.230,-2.537],
  [-0.374,-2.545],[-0.339,-2.572],[-0.278,-2.561],[-0.284,-2.576],[-0.324,-2.613],[-0.288,-2.613],[-0.236,-2.631],[-0.268,-2.661],[-0.290,-2.675],[-0.366,-2.691],
  [-0.197,-2.695],[-0.285,-2.715],[-0.246,-2.728],[-0.190,-2.737],[-0.296,-2.769],[-0.160,-2.822],[-0.086,-2.643],[0.004,-2.623],[0.012,-2.691],[0.107,-2.723],
  [0.010,-2.504],[0.124,-2.512],[0.129,-2.513],[0.092,-2.548],[0.134,-2.546],[0.135,-2.564],[0.126,-2.575],[0.229,-2.497],[0.285,-2.494],[0.316,-2.493],
  [0.371,-2.491],[0.320,-2.512],[0.270,-2.539],[0.244,-2.572],[0.376,-2.568],[0.315,-2.654]
];

const allPoints = [nonMorphemicPts, pluralPts];

const white = '#ffffff';
const gridColor = 'rgba(255,255,255,0.88)';
const halfWidth = 0.4;

const datasets = [];
categories.forEach((cat, i) => {
  // interval band: upper edge filled down to the lower edge
  datasets.push({
    type: 'line',
    label: cat + ' upper',
    data: [{ x: i - halfWidth, y: upperCI[i] }, { x: i + halfWidth, y: upperCI[i] }],
    borderColor: 'rgba(255,255,255,0.85)',
    borderWidth: 1,
    backgroundColor: 'rgba(255,255,255,0.75)',
    fill: '+1',
    pointRadius: 0,
    order: 3
  });
  datasets.push({
    type: 'line',
    label: cat + ' lower',
    data: [{ x: i - halfWidth, y: lowerCI[i] }, { x: i + halfWidth, y: lowerCI[i] }],
    borderColor: 'rgba(255,255,255,0.85)',
    borderWidth: 1,
    fill: false,
    pointRadius: 0,
    order: 3
  });
  datasets.push({
    type: 'scatter',
    label: cat,
    data: allPoints[i].map(p => ({ x: i + p[0], y: p[1] })),
    backgroundColor: 'rgba(255,255,255,0.66)',
    borderColor: 'rgba(255,255,255,0.35)',
    borderWidth: 1,
    pointRadius: 4.3,
    order: 2
  });
  datasets.push({
    type: 'line',
    label: cat + ' mean',
    data: [{ x: i - halfWidth, y: means[i] }, { x: i + halfWidth, y: means[i] }],
    borderColor: white,
    borderWidth: 11,
    borderCapStyle: 'butt',
    pointRadius: 0,
    fill: false,
    order: 1
  });
});

// keep the plot area where the reference has it: no extra room for edge labels
const noEdgePadding = (s) => {
  s.paddingTop = 0;
  s.paddingBottom = 0;
  s.paddingLeft = 0;
  s.paddingRight = 0;
};

new Chart(document.getElementById('chart'), {
  type: 'scatter',
  data: { datasets },
  options: {
    responsive: false,
    devicePixelRatio: 1,
    animation: false,
    layout: { autoPadding: false, padding: { top: 33, right: 39, bottom: 0, left: 0 } },
    plugins: { legend: { display: false }, tooltip: { enabled: false } },
    scales: {
      x: {
        type: 'linear',
        min: -0.487,
        max: 1.489,
        afterBuildTicks: (s) => { s.ticks = categories.map((c, i) => ({ value: i })); },
        afterFit: (s) => { s.height = 114; noEdgePadding(s); },
        ticks: {
          callback: (v) => categories[v],
          color: white,
          font: { family: 'Liberation Sans', size: 127 },
          padding: 4,
          autoSkip: false,
          maxRotation: 0
        },
        grid: { color: gridColor, lineWidth: 2, drawTicks: false },
        border: { display: false }
      },
      y: {
        type: 'linear',
        min: -2.891,
        max: -1.335,
        afterBuildTicks: (s) => { s.ticks = yTicks.map(v => ({ value: v })); },
        afterFit: (s) => { s.width = 416; noEdgePadding(s); },
        ticks: {
          callback: (v) => v.toFixed(1),
          color: white,
          font: { family: 'Liberation Sans', size: 120 },
          padding: 22
        },
        grid: { color: gridColor, lineWidth: 2, drawTicks: false },
        border: { display: false },
        title: {
          display: true,
          text: 'log seconds',
          color: white,
          font: { family: 'Liberation Sans', size: 130 },
          padding: { top: 38, bottom: 0 }
        }
      }
    }
  }
});
</script>
</body>
</html>
